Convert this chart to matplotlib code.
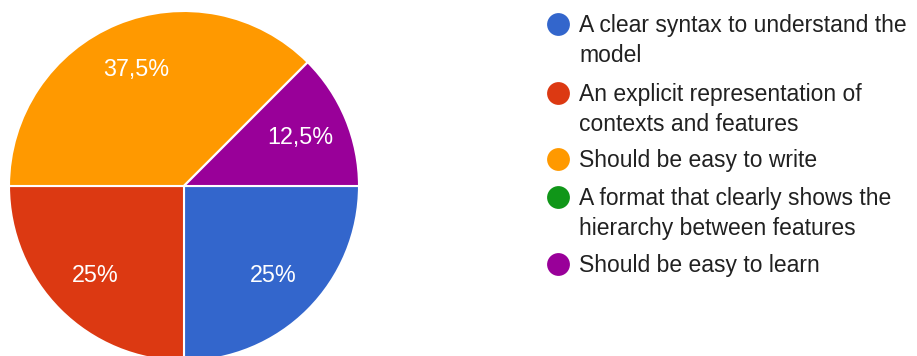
import numpy as np
import matplotlib.pyplot as plt

plt.rcParams['font.family'] = ['Liberation Sans', 'DejaVu Sans']

labels = ['A clear syntax to understand the\nmodel',
          'An explicit representation of\ncontexts and features',
          'Should be easy to write',
          'A format that clearly shows the\nhierarchy between features',
          'Should be easy to learn']
counts = [2, 2, 3, 0, 1]
colors = ['#3366cc', '#dc3912', '#ff9900', '#109618', '#990099']


def pct_label(p):
    if p < 0.01:
        return ''
    if abs(p - round(p)) < 0.01:
        return '%d%%' % round(p)
    return ('%.1f%%' % p).replace('.', ',')


fig = plt.figure(figsize=(9.17, 3.56), dpi=100)

# pie, a bit cut off at the bottom edge
ax = fig.add_axes([9/917, -5/356, 350/917, 350/356])
ax.pie(counts, colors=colors, startangle=0, counterclock=False,
       autopct=pct_label, pctdistance=0.72, radius=1.0,
       wedgeprops=dict(edgecolor='white', linewidth=1.5),
       textprops=dict(color='white', fontsize=16.8))
ax.set_xlim(-1.0, 1.0)
ax.set_ylim(-1.0, 1.0)
ax.set_aspect('equal')

# legend drawn by hand in pixel coordinates
lax = fig.add_axes([0, 0, 1, 1])
lax.set_xlim(0, 917)
lax.set_ylim(356, 0)
lax.axis('off')
rows = [24, 93, 159, 197, 264]
for y, lab, c in zip(rows, labels, colors):
    lax.scatter([558], [y], s=270, color=c, linewidths=0)
    for k, line in enumerate(lab.split('\n')):
        lax.text(579, y + 8 + 30 * k, line, va='baseline', ha='left',
                 fontsize=16.5, color='#212121')

fig.savefig('out.png', dpi=100)
